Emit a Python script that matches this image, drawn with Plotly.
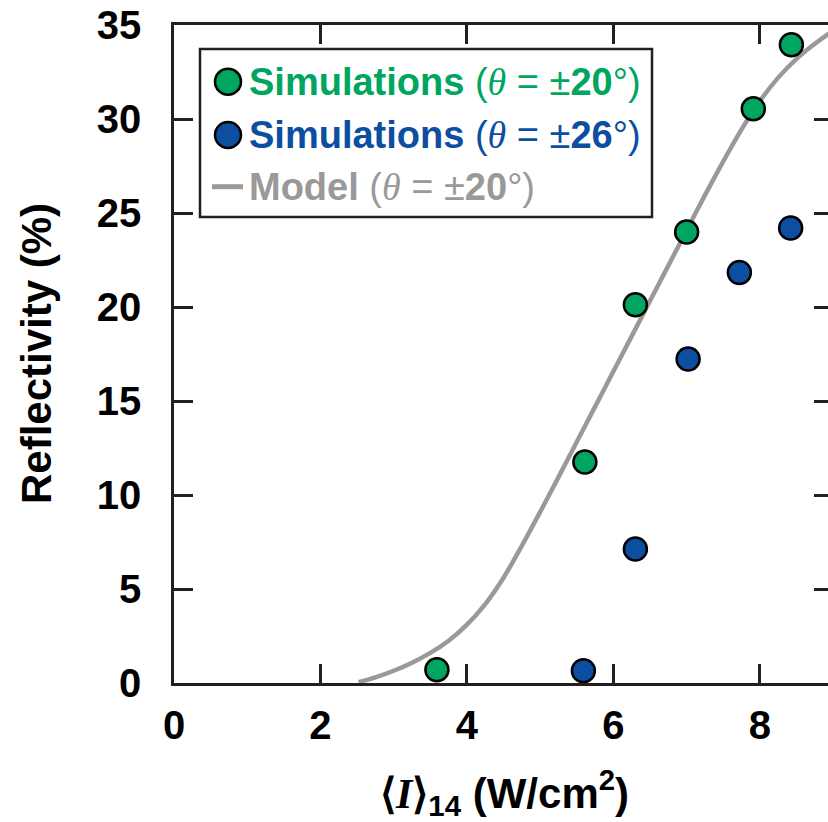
import plotly.graph_objects as go

# ---- data ----
sim20_x = [3.59, 5.61, 6.30, 7.00, 7.91, 8.43]
sim20_y = [0.71, 11.76, 20.12, 23.99, 30.55, 33.95]

sim26_x = [5.59, 6.30, 7.02, 7.72, 8.42]
sim26_y = [0.65, 7.13, 17.23, 21.84, 24.20]

model_x = [2.52, 2.75, 3.0, 3.25, 3.5, 3.75, 4.0, 4.25, 4.5, 4.75, 5.0, 5.25, 5.5, 5.75,
           6.0, 6.25, 6.5, 6.75, 7.0, 7.25, 7.5, 7.75, 8.0, 8.25, 8.5, 8.75, 9.0]
model_y = [0.05, 0.30, 0.65, 1.08, 1.60, 2.25, 3.10, 4.20, 5.60, 7.30, 9.10, 10.95, 12.83, 14.70,
           16.58, 18.45, 20.33, 22.20, 24.08, 25.95, 27.75, 29.45, 30.95, 32.20, 33.20, 34.00, 34.70]

x_ticks = [0, 2, 4, 6, 8]
y_ticks = [0, 5, 10, 15, 20, 25, 30, 35]

legend_labels = [("Simulations", "20"), ("Simulations", "26"), ("Model", "20")]

GREEN = "#00a65f"
BLUE = "#0c4ea0"
GRAY = "#999999"
AX = "#231f20"
FONT = "Liberation Sans"
THETA = '<span style="font-family:\'Liberation Serif\';font-style:italic">θ</span>'


def name(main, num, color):
    return f'<span style="color:{color}"><b>{main}</b> ({THETA} = ±<b>{num}</b>°)</span>'


W, H = 828, 822
L, T, R, B = 174, 25, 0, 139
pw, ph = W - L - R, H - T - B


def px(xp):
    return (xp - L) / pw


def py(yp):
    return (H - B - yp) / ph


fig = go.Figure()
fig.add_trace(go.Scatter(x=model_x, y=model_y, mode="lines",
                         line=dict(color=GRAY, width=4.5, shape="spline", smoothing=0.8),
                         name="Model (θ = ±20°)", showlegend=False))
fig.add_trace(go.Scatter(x=sim20_x, y=sim20_y, mode="markers",
                         marker=dict(color=GREEN, size=23, line=dict(color="black", width=2.5)),
                         name="Simulations (θ = ±20°)", showlegend=False))
fig.add_trace(go.Scatter(x=sim26_x, y=sim26_y, mode="markers",
                         marker=dict(color=BLUE, size=23, line=dict(color="black", width=2.5)),
                         name="Simulations (θ = ±26°)", showlegend=False))
# invisible trace so the right-side tick axis is drawn
fig.add_trace(go.Scatter(x=[None], y=[None], yaxis="y2", showlegend=False, hoverinfo="skip"))

# ---- legend (drawn as layout items so symbol sizes match) ----
row_y = [81.7, 135.0, 186.7]
colors = [GREEN, BLUE, GRAY]
shapes = [dict(type="rect", xref="paper", yref="paper", x0=px(200), x1=px(652), y0=py(217), y1=py(49),
               line=dict(color=AX, width=2.5), fillcolor="rgba(0,0,0,0)", layer="above")]
annotations = []
for i, ((main, num), c, ry) in enumerate(zip(legend_labels, colors, row_y)):
    if i < 2:
        shapes.append(dict(type="circle", xref="paper", yref="paper",
                           x0=px(215), x1=px(241), y0=py(ry + 13), y1=py(ry - 13),
                           fillcolor=c, line=dict(color="black", width=2.5), layer="above"))
    else:
        shapes.append(dict(type="line", xref="paper", yref="paper",
                           x0=px(212), x1=px(243), y0=py(ry), y1=py(ry),
                           line=dict(color=c, width=5), layer="above"))
    annotations.append(dict(text=name(main, num, c), xref="paper", yref="paper",
                            x=px(247), y=py(ry), xanchor="left", yanchor="middle",
                            showarrow=False, font=dict(family=FONT, size=38)))

annotations += [
    dict(text="Reflectivity (%)", xref="paper", yref="paper", x=px(36), y=0.5,
         xanchor="center", yanchor="middle", textangle=-90, showarrow=False,
         font=dict(family=FONT, size=42, weight="bold", color="black")),
    dict(text='⟨<span style="font-family:\'Liberation Serif\';font-style:italic;font-weight:bold">I</span>⟩<sub>14</sub> (W/cm<sup>2</sup>)',
         xref="paper", yref="paper", x=px(504), y=py(792),
         xanchor="center", yanchor="middle", showarrow=False,
         font=dict(family=FONT, size=42, weight="bold", color="black")),
]

fig.update_layout(
    width=W, height=H,
    margin=dict(l=L, r=R, t=T, b=B),
    plot_bgcolor="white", paper_bgcolor="white",
    font=dict(family=FONT, color="black"),
    showlegend=False,
    xaxis=dict(range=[0, 8.93], tickvals=x_ticks, ticks="inside", ticklen=19, tickwidth=2.5,
               tickcolor=AX, showline=True, linecolor=AX, linewidth=2.5, mirror="ticks",
               showgrid=False, zeroline=False,
               tickfont=dict(family=FONT, size=40, weight="bold", color="black"),
               ticklabelstandoff=5),
    yaxis=dict(range=[0, 35], tickvals=y_ticks, ticks="inside", ticklen=19, tickwidth=2.5,
               tickcolor=AX, showline=True, linecolor=AX, linewidth=2.5,
               showgrid=False, zeroline=False,
               tickfont=dict(family=FONT, size=40, weight="bold", color="black"),
               ticklabelstandoff=22),
    yaxis2=dict(range=[0, 35], tickvals=y_ticks, overlaying="y", side="right", anchor="x",
                ticks="inside", ticklen=14, tickwidth=2.5, tickcolor=AX, showline=False,
                showticklabels=False, showgrid=False, zeroline=False),
    shapes=shapes,
    annotations=annotations,
)

fig.write_html("out.html")
